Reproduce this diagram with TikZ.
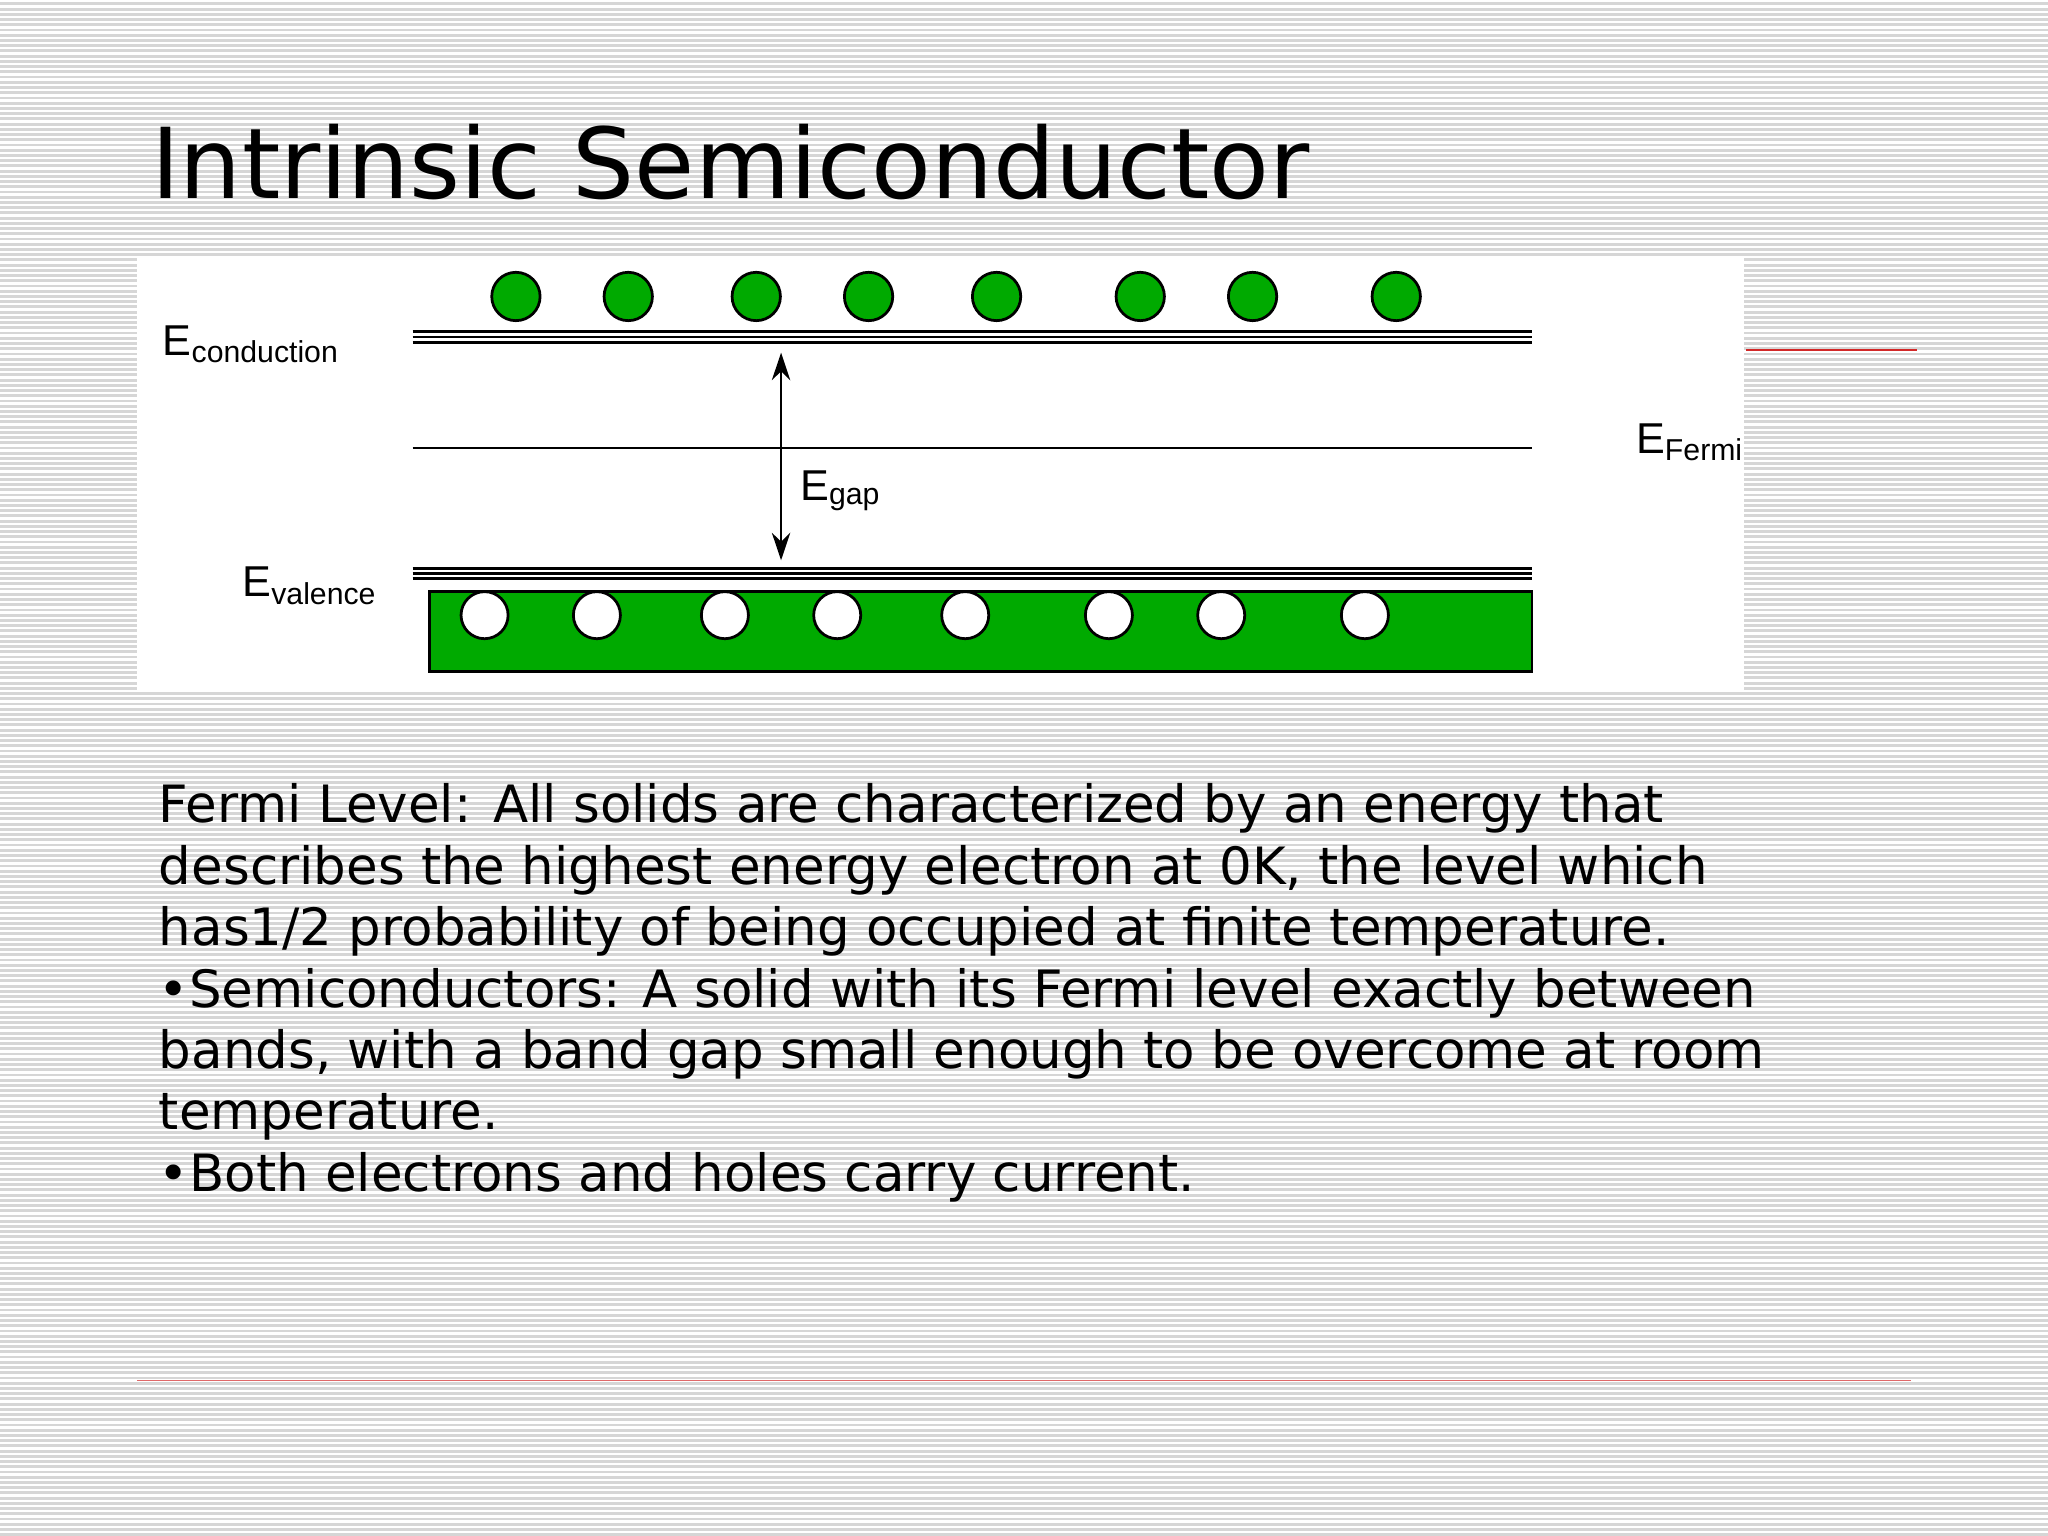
\documentclass[tikz,border=0pt]{standalone}
\usetikzlibrary{arrows.meta}
\usepackage{fontspec}
\setmainfont{DejaVu Sans}
\newfontfamily\arialf{Liberation Sans}
\definecolor{bggray}{RGB}{214,214,214}
\definecolor{egreen}{RGB}{0,170,0}
\definecolor{redl}{RGB}{210,40,40}
\begin{document}
\begin{tikzpicture}[x=0.01cm,y=-0.01cm,
  lab/.style={font=\arialf\fontsize{9.4pt}{12pt}\selectfont,anchor=base west,inner sep=0pt},
  body/.style={font=\fontsize{11.2pt}{13pt}\selectfont,anchor=base west,inner sep=0pt}]
\useasboundingbox (0,0) rectangle (1568,1176);
\fill[bggray] (0,0) rectangle (1568,1176);
\foreach \y in {0,4,...,1176} \draw[white,line width=0.018cm] (0,\y+1) -- (1568,\y+1);
% title
\node[anchor=base west,inner sep=0pt,font=\fontsize{21.3pt}{26pt}\selectfont] (title) at (115,152) {Intrinsic Semiconductor};
% red lines
\draw[redl,line width=0.5pt] (1337,268) -- (1468,268);
\draw[redl!70,line width=0.4pt] (105,1057) -- (1463,1057);
% white box
\fill[white] (105,197) rectangle (1335,528);
% bands
\foreach \y in {254,258,262} \draw[line width=0.6pt] (316,\y) -- (1173,\y);
\foreach \y in {435,439,443} \draw[line width=0.6pt] (316,\y) -- (1173,\y);
\draw[line width=0.6pt] (316,343) -- (1173,343);
\draw[fill=egreen,line width=0.6pt] (329,453) rectangle (1173,514);
\foreach \x [count=\i] in {395,481,579,665,763,873,959,1069}
  \node[circle,draw=black,fill=egreen,minimum size=0.37cm,inner sep=0pt,line width=0.6pt] (e\i) at (\x,227) {};
\foreach \x [count=\i] in {371,457,555,641,739,849,935,1045}
  \node[circle,draw=black,fill=white,minimum size=0.36cm,inner sep=0pt,line width=0.6pt] (h\i) at (\x,471) {};
\coordinate (gt) at (598,270);
\coordinate (gb) at (598,429);
\draw[{Stealth[length=6pt,width=4pt]}-{Stealth[length=6pt,width=4pt]},line width=0.6pt] (gt) -- (gb);
\node[lab] (lc) at (124,272) {E\textsubscript{conduction}};
\node[lab] (lg) at (612,383) {E\textsubscript{gap}};
\node[lab] (lv) at (185,457) {E\textsubscript{valence}};
\node[lab] (lf) at (1252,347) {E\textsubscript{Fermi}};
% body text
\node[body] (t1) at (121,630) {Fermi Level: All solids are characterized by an energy that};
\node[body] (t2) at (121,677) {describes the highest energy electron at 0K, the level which};
\node[body] (t3) at (121,724) {has1/2 probability of being occupied at finite temperature.};
\node[body] (t4) at (121,771) {•Semiconductors: A solid with its Fermi level exactly between};
\node[body] (t5) at (121,818) {bands, with a band gap small enough to be overcome at room};
\node[body] (t6) at (121,865) {temperature.};
\node[body] (t7) at (121,912) {•Both electrons and holes carry current.};
\end{tikzpicture}
\end{document}
